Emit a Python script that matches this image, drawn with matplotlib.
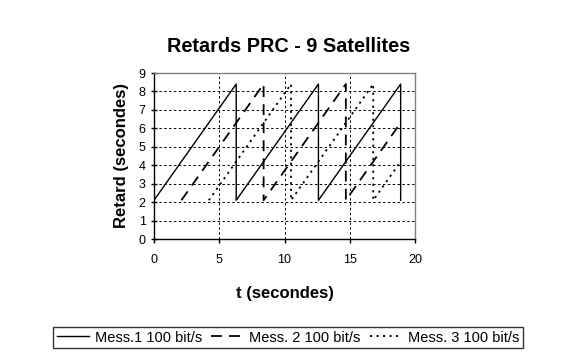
import matplotlib
matplotlib.use("Agg")
import matplotlib.pyplot as plt

plt.rcParams["font.family"] = ["Liberation Sans", "DejaVu Sans"]

# ── Data (sawtooth vertices) ───────────────────────────────
t_mess1 = [0, 6.3, 6.3, 12.6, 12.6, 18.9, 18.9]
r_mess1 = [2.1, 8.4, 2.1, 8.4, 2.1, 8.4, 2.1]

t_mess2 = [2.1, 8.4, 8.4, 14.7, 14.7, 18.9]
r_mess2 = [2.1, 8.4, 2.1, 8.4, 2.1, 6.3]

t_mess3 = [4.2, 10.5, 10.5, 16.8, 16.8, 18.9]
r_mess3 = [2.1, 8.4, 2.1, 8.4, 2.1, 4.2]

labels = ["Mess.1 100 bit/s", "Mess. 2 100 bit/s", "Mess. 3 100 bit/s"]
x_ticks = [0, 5, 10, 15, 20]
y_ticks = list(range(0, 10))

# ── Figure ─────────────────────────────────────────────────
fig = plt.figure(figsize=(5.82, 3.61), dpi=100)
ax = fig.add_axes([154 / 582, 1 - 239 / 361, 261 / 582, 166 / 361])

l1, = ax.plot(t_mess1, r_mess1, color="black", lw=1.0, linestyle="-")
l2, = ax.plot(t_mess2, r_mess2, color="black", lw=1.3, linestyle=(0, (6, 4)))
l3, = ax.plot(t_mess3, r_mess3, color="black", lw=1.3, linestyle=(0, (1.2, 2.4)))

ax.set_xlim(0, 20)
ax.set_ylim(0, 9)
ax.set_xticks(x_ticks)
ax.set_yticks(y_ticks)
ax.tick_params(axis="both", labelsize=9, direction="inout", length=5, width=1)
ax.tick_params(axis="x", direction="out", length=3, pad=8)

ax.grid(True, color="black", lw=0.7, linestyle=(0, (2.5, 2.5)))
ax.set_axisbelow(True)

for side in ["top", "right"]:
    ax.spines[side].set_color("#808080")
    ax.spines[side].set_linewidth(1.0)
for side in ["left", "bottom"]:
    ax.spines[side].set_color("black")
    ax.spines[side].set_linewidth(1.0)

ax.set_xlabel("t (secondes)", fontsize=12, fontweight="bold", labelpad=14)
ax.set_ylabel("Retard (secondes)", fontsize=12, fontweight="bold", labelpad=7)

fig.text(289 / 582, 1 - 47 / 361, "Retards PRC - 9 Satellites",
         fontsize=14.3, fontweight="bold", ha="center", va="center")

leg = fig.legend([l1, l2, l3], labels, loc="center", ncol=3, mode="expand",
                 bbox_to_anchor=(53 / 582, 1 - 348 / 361, 470 / 582, 21 / 361),
                 fontsize=10.5, frameon=True, fancybox=False, handlelength=2.2,
                 handletextpad=0.4, columnspacing=0.8, borderpad=0.25,
                 borderaxespad=0)
leg.get_frame().set_edgecolor("black")
leg.get_frame().set_linewidth(1.0)

fig.savefig("out.png", dpi=100)
